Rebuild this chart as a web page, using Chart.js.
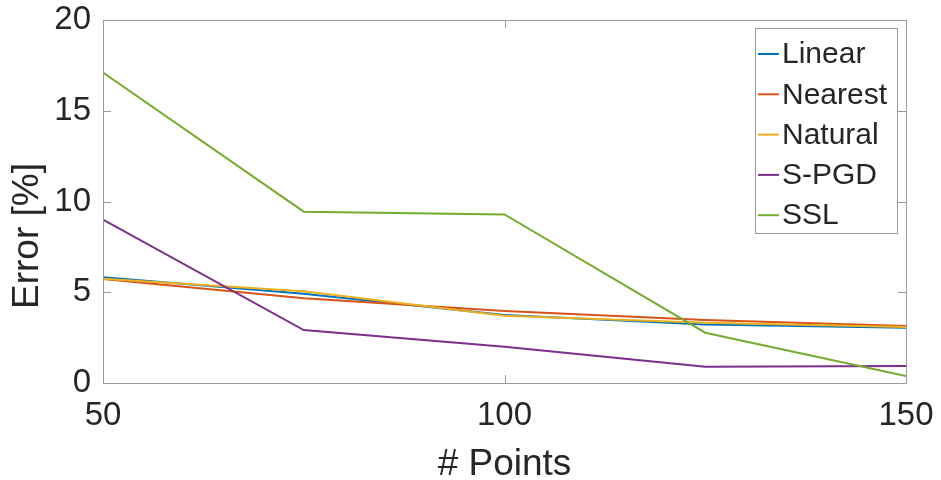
<!DOCTYPE html>
<html>
<head>
<meta charset="utf-8">
<title>Error vs points</title>
<script src="https://cdn.jsdelivr.net/npm/chart.js@4.4.0/dist/chart.umd.min.js"></script>
<style>
    html, body { margin: 0; padding: 0; background: #fff; }
    #wrap { width: 941px; height: 480px; }
</style>
</head>
<body>
<div id="wrap"><canvas id="errorChart" width="941" height="480"></canvas></div>
<script>
    // Datos
    var points = [50, 75, 100, 125, 150];
    var linear = [5.82, 4.92, 3.75, 3.23, 3.05];
    var nearest = [5.73, 4.67, 3.97, 3.47, 3.14];
    var natural = [5.75, 5.05, 3.70, 3.32, 3.08];
    var spgd = [9.0, 2.92, 2.0, 0.90, 0.94];
    var ssl = [17.1, 9.44, 9.29, 2.77, 0.39];

    var seriesNames = ["Linear", "Nearest", "Natural", "S-PGD", "SSL"];
    var seriesColors = ["#0072BD", "#D95319", "#EDB120", "#7E2F8E", "#77AC30"];
    var xTicks = [50, 100, 150];
    var yTicks = [0, 5, 10, 15, 20];
    var yTitle = "Error [%]";

    var textColor = "#262626";
    var axisColor = "#9a9a9a";
    var fontFamily = "'Liberation Sans', Arial, sans-serif";

    function toXY(values) {
        return points.map(function (p, i) { return { x: p, y: values[i] }; });
    }

    var allSeries = [linear, nearest, natural, spgd, ssl];
    var datasets = allSeries.map(function (values, i) {
        return {
            label: seriesNames[i],
            data: toXY(values),
            borderColor: seriesColors[i],
            backgroundColor: seriesColors[i],
            borderWidth: 2,
            pointRadius: 0,
            tension: 0,
            fill: false,
            order: allSeries.length - i
        };
    });

    // Marco tipo MATLAB: caja, marcas hacia dentro, titulo Y y leyenda
    var matlabFrame = {
        id: "matlabFrame",
        afterDraw: function (chart) {
            var ctx = chart.ctx;
            var a = chart.chartArea;
            var xs = chart.scales.x, ys = chart.scales.y;
            var tick = 8;
            ctx.save();
            ctx.strokeStyle = axisColor;
            ctx.lineWidth = 1;
            ctx.strokeRect(Math.round(a.left) + 0.5, Math.round(a.top) + 0.5,
                Math.round(a.right - a.left), Math.round(a.bottom - a.top));
            ctx.beginPath();
            xTicks.forEach(function (v) {
                var px = Math.round(xs.getPixelForValue(v)) + 0.5;
                ctx.moveTo(px, a.bottom); ctx.lineTo(px, a.bottom - tick);
                ctx.moveTo(px, a.top); ctx.lineTo(px, a.top + tick);
            });
            yTicks.forEach(function (v) {
                var py = Math.round(ys.getPixelForValue(v)) + 0.5;
                ctx.moveTo(a.left, py); ctx.lineTo(a.left + tick, py);
                ctx.moveTo(a.right, py); ctx.lineTo(a.right - tick, py);
            });
            ctx.stroke();

            // titulo del eje Y (algo por debajo del centro, como en la figura)
            ctx.save();
            ctx.translate(28, 236);
            ctx.rotate(-Math.PI / 2);
            ctx.font = "37px " + fontFamily;
            ctx.fillStyle = textColor;
            ctx.textAlign = "center";
            ctx.textBaseline = "middle";
            ctx.fillText(yTitle, 0, 0);
            ctx.restore();

            // leyenda
            var bx = 755.5, by = 28.5, bw = 142, bh = 205;
            ctx.fillStyle = "#fff";
            ctx.fillRect(bx, by, bw, bh);
            ctx.strokeStyle = axisColor;
            ctx.strokeRect(bx, by, bw, bh);
            ctx.font = "30px " + fontFamily;
            ctx.textBaseline = "middle";
            ctx.textAlign = "left";
            seriesNames.forEach(function (name, i) {
                var cy = 54 + i * 40.3;
                ctx.strokeStyle = seriesColors[i];
                ctx.lineWidth = 2;
                ctx.beginPath();
                ctx.moveTo(758, cy); ctx.lineTo(779, cy);
                ctx.stroke();
                ctx.fillStyle = textColor;
                ctx.fillText(name, 782, cy + 1);
            });
            ctx.restore();
        }
    };

    var ctx1 = document.getElementById("errorChart").getContext("2d");
    var myChart1 = new Chart(ctx1, {
        type: "line",
        data: { datasets: datasets },
        options: {
            responsive: false,
            animation: false,
            layout: { padding: { left: 0, top: 20, right: 35, bottom: 0 } },
            plugins: {
                legend: { display: false },
                tooltip: { enabled: false }
            },
            scales: {
                x: {
                    type: "linear",
                    min: 50,
                    max: 150,
                    afterBuildTicks: function (s) {
                        s.ticks = xTicks.map(function (v) { return { value: v }; });
                    },
                    afterFit: function (s) {
                        s.height = 97;
                        s.paddingLeft = 0;
                        s.paddingRight = 0;
                    },
                    grid: { display: false, drawTicks: false },
                    border: { display: false },
                    ticks: {
                        color: textColor,
                        font: { family: fontFamily, size: 33 },
                        padding: 13,
                        maxRotation: 0,
                        autoSkip: false
                    },
                    title: {
                        display: true,
                        text: "# Points",
                        color: textColor,
                        font: { family: fontFamily, size: 37, lineHeight: 0.8 },
                        padding: 0
                    }
                },
                y: {
                    min: 0,
                    max: 20,
                    afterBuildTicks: function (s) {
                        s.ticks = yTicks.map(function (v) { return { value: v }; });
                    },
                    afterFit: function (s) {
                        s.width = 103;
                        s.paddingTop = 0;
                        s.paddingBottom = 0;
                    },
                    grid: { display: false, drawTicks: false },
                    border: { display: false },
                    ticks: {
                        color: textColor,
                        font: { family: fontFamily, size: 33 },
                        padding: 12
                    },
                    title: { display: false }
                }
            }
        },
        plugins: [matlabFrame]
    });
</script>
</body>
</html>
